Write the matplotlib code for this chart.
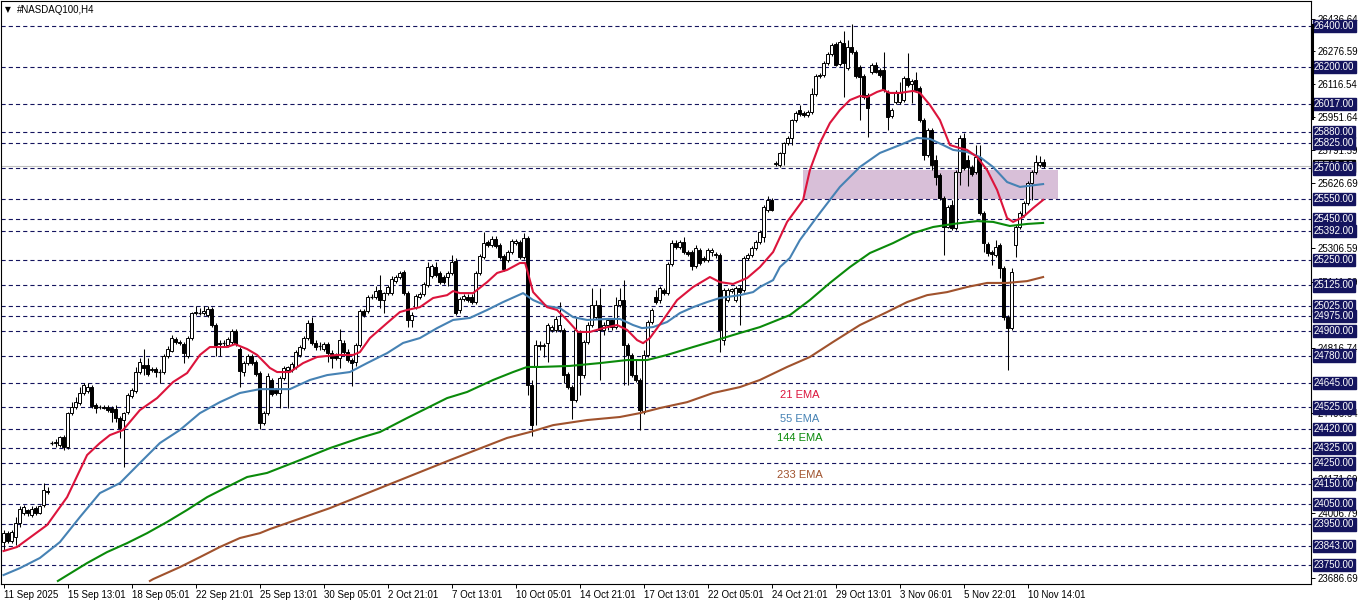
import matplotlib
matplotlib.use("Agg")
import matplotlib.pyplot as plt
from matplotlib.patches import Rectangle
from matplotlib.lines import Line2D

plt.rcParams['font.family'] = ['Liberation Sans', 'DejaVu Sans']
plt.rcParams['lines.scale_dashes'] = False

# ---- data (H4 candles, #NASDAQ100) ----
opens = [
    23863, 23907, 23868, 23888, 23956, 24006, 24021, 23996, 24031, 24006,
    24045, 24114, 24350, 24350, 24340, 24380, 24331, 24497, 24527, 24546,
    24596, 24606, 24625, 24536, 24527, 24527, 24527, 24522, 24517, 24473,
    24463, 24502, 24581, 24606, 24699, 24734, 24734, 24709, 24714, 24699,
    24699, 24778, 24802, 24861, 24846, 24836, 24778, 24866, 24989, 24989,
    24989, 24979, 25009, 24930, 24836, 24841, 24831, 24846, 24901, 24812,
    24699, 24743, 24778, 24748, 24694, 24448, 24497, 24660, 24611, 24596,
    24670, 24709, 24709, 24724, 24783, 24817, 24866, 24940, 24841, 24827,
    24812, 24836, 24792, 24783, 24768, 24841, 24797, 24758, 24748, 24831,
    24999, 24999, 25068, 25068, 25102, 25053, 25087, 25087, 25146, 25166,
    25191, 25087, 24955, 25018, 25068, 25082, 25127, 25171, 25215, 25186,
    25166, 25166, 25186, 25245, 25004, 25058, 25068, 25068, 25043, 25186,
    25265, 25338, 25323, 25353, 25323, 25269, 25250, 25289, 25333, 25338,
    25265, 25358, 24635, 24729, 24831, 24827, 24841, 24906, 24906, 24906,
    24906, 24689, 24625, 24561, 24896, 24684, 24846, 24930, 24969, 25028,
    24906, 24930, 24955, 24920, 25028, 25053, 24831, 24783, 24684, 24660,
    24502, 24783, 24945, 25068, 25053, 25102, 25087, 25230, 25333, 25314,
    25338, 25289, 25289, 25220, 25299, 25260, 25250, 25289, 25274, 25274,
    24856, 25053, 25097, 25053, 25112, 25102, 25260, 25274, 25309, 25338,
    25363, 25496, 25545, 25722, 25717, 25776, 25825, 25850, 25938, 25987,
    25972, 25963, 25977, 26066, 26154, 26159, 26218, 26262, 26311, 26213,
    26316, 26193, 26297, 26272, 26198, 26154, 26061, 26174, 26208, 26184,
    26184, 26076, 25958, 26026, 26026, 26036, 26144, 26115, 26135, 26095,
    25938, 25766, 25889, 25741, 25668, 25555, 25412, 25520, 25407, 25682,
    25850, 25741, 25707, 25682, 25756, 25481, 25328, 25289, 25274, 25323,
    25210, 24969, 24915, 25323, 25412, 25471, 25530, 25628, 25682, 25717, 25732,
]
highs = [
    23922, 23917, 23922, 23987, 24041, 24045, 24026, 24041, 24041, 24045,
    24153, 24134, 24360, 24370, 24385, 24390, 24502, 24551, 24576, 24625,
    24645, 24645, 24635, 24546, 24536, 24536, 24536, 24531, 24536, 24483,
    24502, 24596, 24620, 24724, 24768, 24812, 24768, 24724, 24724, 24714,
    24788, 24827, 24881, 24871, 24856, 24846, 24876, 24994, 25023, 25013,
    25023, 25023, 25018, 24940, 24856, 24856, 24871, 24910, 24910, 24822,
    24753, 24788, 24788, 24758, 24704, 24507, 24694, 24670, 24620, 24679,
    24729, 24729, 24748, 24807, 24831, 24876, 24955, 24969, 24856, 24846,
    24846, 24846, 24807, 24792, 24910, 24856, 24812, 24768, 24841, 25009,
    25009, 25077, 25082, 25122, 25176, 25092, 25127, 25171, 25176, 25196,
    25201, 25097, 24994, 25082, 25092, 25141, 25240, 25230, 25240, 25196,
    25176, 25196, 25274, 25260, 25068, 25082, 25082, 25082, 25196, 25279,
    25387, 25348, 25368, 25368, 25333, 25279, 25299, 25353, 25353, 25348,
    25382, 25368, 24660, 24856, 24851, 24841, 24940, 24930, 24974, 25043,
    24915, 24699, 24635, 24964, 24906, 24856, 24945, 25112, 25053, 25112,
    24945, 24964, 24964, 25068, 25112, 25151, 24841, 24792, 24758, 24670,
    24807, 24955, 25013, 25102, 25122, 25112, 25240, 25348, 25348, 25348,
    25363, 25299, 25299, 25323, 25309, 25269, 25309, 25309, 25289, 25284,
    25112, 25112, 25112, 25122, 25127, 25269, 25284, 25318, 25348, 25397,
    25520, 25564, 25555, 25736, 25781, 25830, 25859, 25943, 25982, 26012,
    25982, 25987, 26095, 26164, 26169, 26228, 26272, 26316, 26321, 26331,
    26375, 26331, 26410, 26282, 26208, 26164, 26071, 26218, 26223, 26193,
    26272, 26086, 25997, 26086, 26125, 26154, 26267, 26139, 26174, 26105,
    25948, 25899, 25899, 25766, 25678, 25564, 25520, 25545, 25692, 25864,
    25874, 25766, 25717, 25815, 25815, 25491, 25338, 25299, 25348, 25333,
    25220, 24979, 25210, 25422, 25491, 25540, 25638, 25692, 25766, 25761, 25746,
]
lows = [
    23824, 23858, 23858, 23848, 23937, 23996, 23991, 23987, 23996, 24001,
    24036, 24099, 24340, 24331, 24331, 24316, 24321, 24487, 24517, 24536,
    24586, 24596, 24522, 24497, 24517, 24517, 24502, 24453, 24453, 24375,
    24232, 24492, 24571, 24596, 24689, 24684, 24679, 24699, 24674, 24645,
    24689, 24768, 24797, 24836, 24831, 24743, 24768, 24856, 24979, 24979,
    24979, 24969, 24920, 24778, 24778, 24827, 24822, 24836, 24827, 24625,
    24679, 24734, 24734, 24679, 24419, 24438, 24487, 24581, 24586, 24522,
    24660, 24522, 24699, 24714, 24773, 24807, 24856, 24831, 24807, 24807,
    24802, 24748, 24719, 24758, 24719, 24788, 24748, 24630, 24729, 24822,
    24969, 24989, 25058, 25058, 25013, 24989, 25077, 25077, 25137, 25156,
    25077, 24920, 24920, 25009, 25058, 25073, 25117, 25161, 25166, 25132,
    25132, 25122, 25176, 24979, 24989, 25048, 25043, 25033, 25033, 25176,
    25255, 25314, 25314, 25309, 25255, 25196, 25240, 25279, 25323, 25255,
    25255, 24586, 24384, 24438, 24807, 24773, 24748, 24896, 24896, 24896,
    24645, 24615, 24468, 24551, 24586, 24670, 24836, 24920, 24960, 24660,
    24881, 24906, 24906, 24910, 25018, 24635, 24635, 24674, 24650, 24414,
    24492, 24773, 24935, 25033, 25038, 25077, 25077, 25220, 25304, 25304,
    25279, 25269, 25201, 25210, 25225, 25240, 25240, 25269, 25260, 24797,
    24831, 25043, 25087, 25043, 24930, 25092, 25250, 25265, 25299, 25328,
    25338, 25486, 25491, 25712, 25707, 25717, 25815, 25815, 25928, 25958,
    25953, 25953, 25967, 26056, 26144, 26149, 26208, 26252, 26203, 26203,
    26051, 26184, 26262, 26144, 25938, 26041, 25854, 26164, 26169, 26149,
    26076, 25889, 25948, 26017, 26017, 26026, 26100, 26022, 26076, 25928,
    25741, 25756, 25692, 25618, 25545, 25274, 25407, 25397, 25397, 25618,
    25692, 25614, 25663, 25673, 25471, 25289, 25269, 25225, 25265, 25161,
    24955, 24709, 24906, 25265, 25402, 25461, 25520, 25545, 25673, 25707, 25702,
]
closes = [
    23907, 23868, 23912, 23956, 24026, 24036, 24006, 24026, 24006, 24041,
    24119, 24109, 24350, 24355, 24380, 24331, 24497, 24527, 24551, 24596,
    24635, 24625, 24531, 24522, 24525, 24522, 24512, 24502, 24473, 24424,
    24497, 24586, 24611, 24699, 24748, 24719, 24689, 24714, 24699, 24697,
    24778, 24812, 24866, 24846, 24841, 24792, 24866, 24989, 24994, 24987,
    24999, 25009, 24930, 24831, 24841, 24843, 24861, 24901, 24836, 24704,
    24743, 24778, 24743, 24689, 24448, 24497, 24679, 24591, 24596, 24670,
    24719, 24724, 24738, 24797, 24822, 24866, 24940, 24841, 24822, 24825,
    24836, 24792, 24768, 24768, 24856, 24797, 24758, 24743, 24831, 24999,
    24979, 25068, 25066, 25097, 25053, 25087, 25117, 25156, 25166, 25186,
    25087, 24955, 24979, 25073, 25082, 25132, 25215, 25220, 25176, 25141,
    25141, 25186, 25240, 24989, 25058, 25073, 25053, 25043, 25186, 25269,
    25333, 25323, 25353, 25318, 25265, 25206, 25289, 25343, 25343, 25265,
    25358, 24635, 24438, 24831, 24827, 24833, 24930, 24920, 24960, 24930,
    24684, 24625, 24561, 24906, 24684, 24846, 24930, 25028, 25028, 24906,
    24930, 24955, 24920, 25028, 25053, 24831, 24783, 24684, 24660, 24512,
    24783, 24945, 25004, 25043, 25112, 25087, 25230, 25333, 25314, 25338,
    25289, 25279, 25220, 25309, 25235, 25250, 25299, 25299, 25279, 24906,
    25102, 25102, 25107, 25112, 25092, 25260, 25274, 25309, 25338, 25387,
    25510, 25545, 25496, 25727, 25776, 25825, 25850, 25938, 25972, 25967,
    25963, 25977, 26066, 26154, 26159, 26218, 26262, 26307, 26208, 26321,
    26218, 26297, 26272, 26154, 26149, 26051, 25997, 26208, 26174, 26159,
    26086, 25953, 25987, 26076, 26076, 26144, 26110, 26130, 26086, 25938,
    25766, 25889, 25717, 25658, 25555, 25412, 25510, 25407, 25682, 25850,
    25702, 25707, 25673, 25756, 25481, 25333, 25284, 25279, 25314, 25210,
    24969, 24915, 25191, 25412, 25481, 25530, 25628, 25682, 25732, 25732, 25712,
]

# moving averages (bar position, price)
ema21_x = [0, 3.4, 10.9, 15.9, 20.9, 24.1, 26.6, 29.9, 34.1, 38.4, 42.4, 45.9, 49.1, 51.6,
           55.9, 57.9, 60.9, 63.4, 66.6, 68.4, 71.6, 74.9, 78.4, 83.4, 87.4, 89.1, 91.6,
           95.9, 99.1, 100.9, 104.1, 107.4, 110.9, 112.4, 114.1, 117.4, 120.9, 123.4,
           125.9, 129.1, 130.4, 130.9, 132.4, 135.9, 138.4, 140.9, 143.6, 146.6, 149.9,
           153.4, 155.9, 158.4, 159.9, 161.6, 164.9, 168.4, 172.4, 176.6, 179.1, 182.4,
           185.9, 189.1, 192.4, 195.9, 199.9, 201.6, 204.1, 206.6, 209.1, 211.6, 214.1,
           215.9, 218.4, 219.9, 221.6, 224.1, 227.4, 229.1, 231.6, 234.1, 236.6, 239.1,
           240.9, 243.4, 245.9, 248.4, 250.9, 252.4, 254.9, 257.4, 259.9]
ema21_y = [23819, 23839, 23947, 24084, 24291, 24350, 24389, 24414, 24512, 24571, 24650, 24694,
           24783, 24822, 24822, 24836, 24812, 24783, 24719, 24699, 24699, 24743, 24773, 24783,
           24783, 24797, 24866, 24940, 24994, 25004, 25018, 25063, 25077, 25097, 25087, 25087,
           25141, 25186, 25201, 25235, 25235, 25201, 25092, 25018, 25004, 24955, 24896, 24896,
           24915, 24930, 24906, 24856, 24841, 24866, 24955, 25053, 25117, 25166, 25141, 25132,
           25161, 25215, 25289, 25437, 25545, 25692, 25825, 25923, 25987, 26036, 26056, 26051,
           26076, 26086, 26071, 26071, 26081, 26071, 26012, 25938, 25815, 25800, 25791, 25756,
           25692, 25594, 25456, 25437, 25461, 25505, 25545]

ema55_x = [0, 4.1, 9.1, 14.1, 19.1, 24.1, 29.1, 34.1, 39.1, 44.1, 49.1, 54.1, 59.1, 64.1,
           71.6, 76.6, 80.9, 86.6, 90.9, 95.9, 99.9, 104.1, 108.4, 112.4, 116.6, 120.9,
           124.9, 129.9, 132.4, 135.9, 139.1, 142.4, 145.9, 150.9, 154.1, 157.4, 159.6,
           162.4, 165.9, 169.1, 172.4, 175.9, 179.1, 184.1, 187.4, 189.1, 192.4, 194.1,
           196.6, 199.1, 204.1, 209.1, 214.1, 219.1, 224.1, 228.4, 231.6, 234.9, 237.4,
           240.9, 244.1, 247.4, 250.9, 254.1, 259.9]
ema55_y = [23701, 23735, 23785, 23863, 23986, 24104, 24153, 24252, 24350, 24414, 24497, 24551,
           24596, 24615, 24615, 24660, 24684, 24699, 24743, 24792, 24842, 24866, 24915, 24955,
           24965, 25004, 25043, 25087, 25053, 25023, 25013, 24969, 24955, 24960, 24960, 24930,
           24915, 24920, 24945, 24989, 25018, 25043, 25063, 25077, 25092, 25117, 25151, 25215,
           25260, 25348, 25481, 25609, 25707, 25776, 25815, 25850, 25845, 25815, 25791, 25781,
           25756, 25707, 25633, 25609, 25623]

ema144_x = [13.6, 20.9, 25.9, 30.9, 35.9, 40.9, 45.9, 50.9, 55.9, 60.9, 65.9, 74.1, 81.6,
            89.1, 94.1, 100.9, 105.9, 110.9, 115.9, 122.4, 127.4, 130.9, 134.1, 141.6, 149.1,
            155.9, 160.9, 165.9, 172.4, 177.4, 184.1, 189.1, 196.6, 201.6, 206.6, 211.6,
            216.6, 222.4, 227.4, 232.4, 237.4, 243.4, 247.4, 251.6, 255.9, 259.9]
ema144_y = [23672, 23760, 23814, 23858, 23907, 23962, 24021, 24084, 24134, 24183, 24203, 24266,
            24325, 24375, 24404, 24473, 24522, 24571, 24601, 24660, 24699, 24724, 24724, 24729,
            24743, 24758, 24758, 24783, 24822, 24851, 24891, 24920, 24979, 25053, 25137, 25215,
            25284, 25333, 25382, 25412, 25427, 25441, 25437, 25417, 25427, 25432]

ema233_x = [36.6, 37.4, 44.1, 49.1, 54.1, 59.1, 64.1, 66.6, 81.6, 96.6, 111.6, 125.9, 131.6,
            137.4, 145.9, 154.1, 159.1, 164.1, 170.9, 177.4, 184.1, 189.1, 195.9, 201.6,
            207.4, 214.1, 220.9, 225.9, 230.9, 235.9, 240.9, 245.9, 250.9, 255.9, 259.9]
ema233_y = [23672, 23681, 23740, 23789, 23839, 23883, 23907, 23927, 24030, 24148, 24266, 24375,
            24404, 24438, 24463, 24478, 24497, 24522, 24551, 24596, 24625, 24660, 24724, 24773,
            24847, 24930, 24994, 25043, 25077, 25092, 25117, 25137, 25137, 25146, 25166]

levels = [26400, 26200, 26017, 25880, 25825, 25700, 25550, 25450, 25392, 25250, 25125,
          25025, 24975, 24900, 24780, 24645, 24525, 24420, 24325, 24250, 24150, 24050,
          23950, 23843, 23750]
scale_ticks = [26436.64, 26276.59, 26116.54, 25951.64, 25791.59, 25626.69,
               25306.59, 25141.69, 24816.74, 24496.64,
               24171.69, 24006.79, 23686.69]
date_labels = ["11 Sep 2025", "15 Sep 13:01", "18 Sep 05:01", "22 Sep 21:01", "25 Sep 13:01",
               "30 Sep 05:01", "2 Oct 21:01", "7 Oct 13:01", "10 Oct 05:01", "14 Oct 21:01",
               "17 Oct 13:01", "22 Oct 05:01", "24 Oct 21:01", "29 Oct 13:01", "3 Nov 06:01",
               "5 Nov 22:01", "10 Nov 14:01"]
zone_bars = [199.9, 263.6]
zone_prices = [25550, 25692]
bid = 25712

W, H = 1362, 603
navy = '#14145e'

fig = plt.figure(figsize=(W / 100, H / 100), dpi=100)
ax = fig.add_axes([1 / W, 19 / H, 1310 / W, 583 / H])
ax.set_xlim(-0.625, 326.875)
ax.set_ylim(23657, 26523)

# zone
ax.add_patch(Rectangle((zone_bars[0], zone_prices[0]), zone_bars[1] - zone_bars[0],
                       zone_prices[1] - zone_prices[0], fc='#d8bfd8', ec='none', zorder=0.5))

# horizontal levels
for lv in levels:
    ax.axhline(lv, color=navy, lw=0.8, ls=(0, (3, 2.2)), zorder=1)
ax.axhline(bid, color='#c0c0c0', lw=0.8, zorder=1.2)

# candles
xs = list(range(len(closes)))
ax.vlines(xs, lows, highs, color='black', lw=0.75, zorder=2)
for i in xs:
    o, c = opens[i], closes[i]
    lo, hi = min(o, c), max(o, c)
    fc = 'white' if c > o else 'black'
    if hi - lo < 3:
        ax.hlines((o + c) / 2, i - 0.4, i + 0.4, color='black', lw=0.9, zorder=2.2)
    else:
        ax.add_patch(Rectangle((i - 0.32, lo), 0.64, hi - lo, fc=fc, ec='black',
                               lw=0.7, zorder=2.2))

# moving averages
ax.plot(ema233_x, ema233_y, color='#a0522d', lw=1.5, zorder=3)
ax.plot(ema144_x, ema144_y, color='#0a8a0a', lw=1.5, zorder=3)
ax.plot(ema55_x, ema55_y, color='#4682b4', lw=1.5, zorder=3)
ax.plot(ema21_x, ema21_y, color='#dc143c', lw=1.5, zorder=3)

ax.text(199, 24586, "21 EMA", color='#dc143c', fontsize=8, ha='center', va='center')
ax.text(199, 24468, "55 EMA", color='#4682b4', fontsize=8, ha='center', va='center')
ax.text(199, 24375, "144 EMA", color='#0a8a0a', fontsize=8, ha='center', va='center')
ax.text(199, 24193, "233 EMA", color='#a0522d', fontsize=8, ha='center', va='center')

# axes styling
for s in ax.spines.values():
    s.set_linewidth(0.8)
    s.set_color('black')
ax.yaxis.tick_right()
ax.set_yticks(scale_ticks)
ax.set_yticklabels([f"{v:.2f}" for v in scale_ticks])
ax.tick_params(axis='y', length=3, width=0.7, pad=2, labelsize=7)
ax.set_xticks(range(0, 257, 16))
ax.set_xticklabels(date_labels, ha='left')
ax.tick_params(axis='x', length=3, width=0.7, pad=1.5, labelsize=7)

# price label boxes
yt = ax.get_yaxis_transform()
ax.text(1.0023, bid, f"{bid:.2f}", transform=yt, fontsize=7, color='white', va='center',
        ha='left', clip_on=False, zorder=5,
        bbox=dict(boxstyle='square,pad=0.12', fc='black', ec='black'))
for lv in levels:
    ax.text(1.0023, lv, f"{lv:.2f}", transform=yt, fontsize=7, color='white', va='center',
            ha='left', clip_on=False, zorder=6,
            bbox=dict(boxstyle='square,pad=0.12', fc=navy, ec=navy))

fig.add_artist(Line2D([1312 / W, 1312 / W], [1 - 25 / H, 1 - 118 / H], color='black', lw=2.2))

fig.text(5 / W, 1 - 10 / H, "\u25bc", fontsize=5.5, family='DejaVu Sans', va='center')
fig.text(17 / W, 1 - 10 / H, "#NASDAQ100,H4", fontsize=7, va='center')

fig.savefig("out.png", dpi=100)
plt.close(fig)
